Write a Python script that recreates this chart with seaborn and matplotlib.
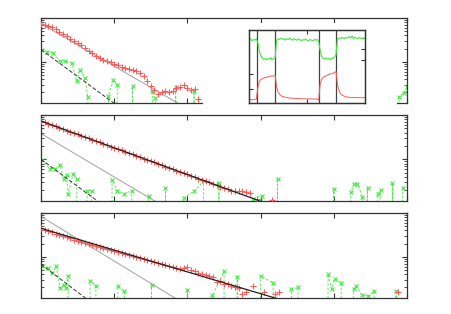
import matplotlib
matplotlib.use("Agg")
import matplotlib.pyplot as plt
import seaborn as sns
from matplotlib.patches import Rectangle

# ---- panel 1 (top) ----
red1_y = [0.73, 0.71, 0.665, 0.61, 0.548, 0.48, 0.433, 0.384, 0.34, 0.30,
          0.267, 0.236, 0.205, 0.178, 0.155, 0.135, 0.122, 0.111, 0.104, 0.0968,
          0.090, 0.084, 0.078, 0.073, 0.068, 0.0638, 0.0605, 0.056, 0.047, 0.037,
          0.0285, 0.0231, 0.0187, 0.0209, 0.0214, 0.0209, 0.0214, 0.025, 0.027, 0.030,
          0.025, 0.0231, 0.0243, 0.0144]
green1_x = [0.01, 0.08, 0.16, 0.26, 0.33, 0.42, 0.49, 0.53, 0.60, 0.64, 0.70,
            0.88, 0.92, 0.99, 1.04, 1.10, 1.20, 1.25, 1.30, 1.48, 1.52, 1.56, 1.60,
            1.80, 1.84, 1.90, 2.05, 2.09, 2.12, 4.85, 4.89, 4.96, 5.0]
green1_y = [0.187, 0.171, 0.163, 0.102, 0.107, 0.093, 0.0357, 0.066, 0.0427, 0.016, 0,
            0, 0.017, 0.039, 0.030, 0, 0, 0.0275, 0, 0, 0.0211, 0.0152, 0,
            0, 0.027, 0, 0, 0.0211, 0, 0, 0.016, 0.0199, 0.0266]
gray1_x, gray1_y = [0, 2], [0.74, 0.0085]
dash1_x, dash1_y = [0, 1.2], [0.19, 0.0064]

# ---- panel 2 (middle) ----
red2_y = [0.731, 0.682, 0.636, 0.60, 0.553, 0.516, 0.482, 0.441, 0.419, 0.391,
          0.365, 0.340, 0.318, 0.302, 0.276, 0.258, 0.240, 0.224, 0.209, 0.190,
          0.182, 0.170, 0.158, 0.148, 0.138, 0.129, 0.120, 0.114, 0.104, 0.0973,
          0.0908, 0.0847, 0.0790, 0.0737, 0.0675, 0.0641, 0.0598, 0.0558, 0.0520, 0.0485,
          0.046, 0.0423, 0.0394, 0.0367, 0.0343, 0.0320, 0.0305, 0.0278, 0.0260, 0.0242,
          0.0226, 0.0211, 0.0197, 0.0193, 0.0192, 0.0189, 0.0186, 0.0178]
red2_extra_x, red2_extra_y = [2.95, 3.15], [0.013, 0.0121]
green2_x = [0.01, 0.12, 0.19, 0.26, 0.31, 0.35, 0.37, 0.44, 0.49, 0.55,
            0.63, 0.69, 0.75, 0.97, 1.04, 1.13, 1.24, 1.30, 1.47, 1.55,
            1.70, 1.80, 1.95, 2.09, 2.22, 2.27, 2.43, 2.50, 2.89, 3.02,
            3.10, 3.23, 3.27, 4.00, 4.05, 4.23, 4.28, 4.32, 4.39, 4.43,
            4.46, 4.50, 4.60, 4.64, 4.70, 4.80, 4.87, 4.94]
green2_y = [0.0985, 0.0615, 0.0615, 0.073, 0.0364, 0.0433, 0.0166, 0.0473, 0.0364, 0,
            0.0197, 0.0197, 0, 0.0346, 0.0197, 0.0166, 0.0197, 0, 0.0152, 0,
            0.0223, 0, 0.0135, 0.019, 0.0321, 0, 0.0289, 0, 0.013, 0.0152,
            0, 0.0364, 0, 0.0216, 0, 0.0181, 0.028, 0.028, 0.0144, 0,
            0.0223, 0, 0.0166, 0.0205, 0, 0.0289, 0, 0.0223]
black2_x, black2_y = [0, 3.2], [0.731, 0.00853]
gray2_x, gray2_y = [0, 2], [0.38, 0.0042]
dash2_x, dash2_y = [0, 1], [0.1, 0.006]

# ---- panel 3 (bottom) ----
red3_y = [0.447, 0.417, 0.389, 0.363, 0.339, 0.316, 0.295, 0.279, 0.263, 0.248,
          0.234, 0.221, 0.209, 0.197, 0.186, 0.176, 0.166, 0.158, 0.151, 0.145,
          0.138, 0.130, 0.123, 0.117, 0.112, 0.106, 0.100, 0.0955, 0.0912, 0.0861,
          0.0813, 0.0776, 0.0741, 0.070, 0.0661, 0.0631, 0.0589, 0.0562, 0.0537, 0.055,
          0.0575, 0.0501, 0.0468, 0.0437, 0.0398, 0.038, 0.0363, 0.0347, 0.0263, 0.0275,
          0.0245, 0.024, 0.0219, 0.0209, 0.019, 0.0141, 0.0158]
red3_extra_x = [2.90, 3.05, 3.20, 3.25, 4.88]
red3_extra_y = [0.0219, 0.0158, 0.0141, 0.0158, 0.0158]
green3_x = [0.01, 0.10, 0.15, 0.21, 0.26, 0.31, 0.34, 0.37, 0.45, 0.67,
            0.75, 0.80, 1.05, 1.14, 1.20, 1.51, 1.60, 2.00, 2.10, 2.34,
            2.50, 2.55, 2.68, 2.75, 3.00, 3.17, 3.25, 3.42, 3.51, 3.60,
            3.92, 3.97, 4.01, 4.10, 4.15, 4.27, 4.30, 4.38, 4.46, 4.55,
            4.65, 4.85, 4.90]
green3_y = [0.0624, 0.0553, 0.0426, 0.0603, 0.0194, 0.0231, 0.0194, 0.0357, 0, 0.0285,
            0.0219, 0, 0.0211, 0.0163, 0, 0.0231, 0, 0.0178, 0, 0.0132,
            0.0463, 0, 0.0351, 0, 0.0371, 0.0252, 0, 0.0181, 0.0200, 0,
            0.0404, 0.0187, 0.0316, 0.0257, 0, 0.0187, 0.0211, 0.0137, 0.0125, 0.0163,
            0, 0.0169, 0]
black3_x, black3_y = [0, 3.5], [0.447, 0.0081]
gray3_x, gray3_y = [0, 2], [0.83, 0.0077]
dash3_x, dash3_y = [0, 0.8], [0.0676, 0.0065]

# ---- inset time traces (x step 0.025) ----
inset_green = [0.86, 0.88, 0.85, 0.87, 0.86, 0.88, 0.83, 0.72, 0.65, 0.62,
               0.60, 0.61, 0.59, 0.61, 0.60, 0.62, 0.59, 0.61, 0.62, 0.86,
               0.88, 0.87, 0.89, 0.87, 0.88, 0.86, 0.88, 0.87, 0.89, 0.87,
               0.86, 0.88, 0.87, 0.86, 0.88, 0.87, 0.85, 0.87, 0.86, 0.88,
               0.86, 0.85, 0.87, 0.86, 0.85, 0.87, 0.86, 0.87, 0.84, 0.73,
               0.64, 0.61, 0.60, 0.62, 0.60, 0.61, 0.59, 0.62, 0.61, 0.63,
               0.66, 0.88, 0.89, 0.88, 0.90, 0.89, 0.88, 0.90, 0.89, 0.91,
               0.89, 0.92, 0.88, 0.90, 0.89, 0.88, 0.90, 0.89, 0.88, 0.89, 0.88]
inset_red = [0.05, 0.05, 0.04, 0.05, 0.05, 0.05, 0.20, 0.29, 0.32, 0.33,
             0.34, 0.35, 0.35, 0.36, 0.36, 0.37, 0.37, 0.37, 0.38, 0.22,
             0.15, 0.12, 0.10, 0.09, 0.085, 0.08, 0.075, 0.07, 0.07, 0.065,
             0.065, 0.065, 0.06, 0.062, 0.06, 0.058, 0.06, 0.058, 0.057, 0.058,
             0.056, 0.057, 0.055, 0.056, 0.055, 0.054, 0.055, 0.053, 0.04, 0.25,
             0.32, 0.35, 0.36, 0.37, 0.38, 0.39, 0.40, 0.40, 0.41, 0.42,
             0.43, 0.25, 0.17, 0.13, 0.11, 0.10, 0.09, 0.085, 0.08, 0.078,
             0.077, 0.075, 0.074, 0.075, 0.073, 0.074, 0.072, 0.073, 0.072, 0.073, 0.074]
inset_marks = [0.144, 0.454, 1.20, 1.50]

RED = "#ff5a5a"
GREEN = "#44ea44"
FRAME = "#333333"

sns.set_theme(style="white", rc={"axes.edgecolor": FRAME, "axes.linewidth": 0.9})

fig = plt.figure(figsize=(4.52, 3.14), dpi=100)

panels = [
    (0.672, 0.2707, red1_y, [], [], green1_x, green1_y, None, (gray1_x, gray1_y), (dash1_x, dash1_y)),
    (0.360, 0.2739, red2_y, red2_extra_x, red2_extra_y, green2_x, green2_y,
     (black2_x, black2_y), (gray2_x, gray2_y), (dash2_x, dash2_y)),
    (0.051, 0.2707, red3_y, red3_extra_x, red3_extra_y, green3_x, green3_y,
     (black3_x, black3_y), (gray3_x, gray3_y), (dash3_x, dash3_y)),
]

for bottom, height, red_y, ex_x, ex_y, gx, gy, black, gray, dash in panels:
    ax = fig.add_axes([0.0907, bottom, 0.81, height])
    ax.set_yscale("log")
    red_x = [round(0.05 * i, 2) for i in range(len(red_y))] + ex_x
    red_all = red_y + ex_y
    # green: dashed linespoints, zeros drop off the bottom of the log axis
    ax.plot(gx, gy, color=GREEN, linestyle=(0, (3, 2)), linewidth=0.6,
            marker="x", markersize=3.5, markeredgewidth=0.8)
    sns.scatterplot(x=red_x, y=red_all, marker="+", s=18, color=RED,
                    linewidth=0.8, ax=ax, zorder=3)
    sns.lineplot(x=gray[0], y=gray[1], color="#a0a0a0", linewidth=0.7,
                 estimator=None, sort=False, ax=ax)
    sns.lineplot(x=dash[0], y=dash[1], color="#333333", linewidth=0.7,
                 linestyle=(0, (4, 2)), estimator=None, sort=False, ax=ax)
    if black is not None:
        sns.lineplot(x=black[0], y=black[1], color="#222222", linewidth=0.9,
                     estimator=None, sort=False, ax=ax, zorder=4)
    ax.set_xlim(0, 5)
    ax.set_ylim(10 ** -1.94, 1)
    ax.set_xticks([0, 1, 2, 3, 4, 5])
    ax.tick_params(which="both", direction="in", top=True, right=True,
                   bottom=True, left=True, labelleft=False, labelbottom=False,
                   color=FRAME)
    ax.tick_params(which="major", length=3.5, width=0.8)
    ax.tick_params(which="minor", length=2, width=0.6)
    ax.set_xlabel("")
    ax.set_ylabel("")

# white box that blanks out the middle of the top panel
fig.add_artist(Rectangle((0.449, 0.659), 0.429, 0.268, transform=fig.transFigure,
                         facecolor="white", edgecolor="none", zorder=1))

# inset
ax_in = fig.add_axes([0.551, 0.672, 0.2566, 0.2325])
ax_in.set_zorder(2)
ax_in2 = ax_in.twinx()
ax_in2.set_zorder(3)
ax_in2.patch.set_visible(False)
t = [round(0.025 * i, 3) for i in range(len(inset_red))]
for m in inset_marks:
    ax_in.axvline(m, color="#444444", linewidth=0.9)
sns.lineplot(x=t, y=inset_red, color=RED, linewidth=0.7, estimator=None,
             sort=False, ax=ax_in)
sns.lineplot(x=t, y=inset_green, color=GREEN, linewidth=0.8, estimator=None,
             sort=False, ax=ax_in2)
for a in (ax_in, ax_in2):
    a.set_xlim(0, 2)
    a.set_ylim(0, 1)
    a.set_xticks([1])
    a.set_xlabel("")
    a.set_ylabel("")
ax_in.set_yticks([0.19, 0.40])
ax_in2.set_yticks([0.59, 0.74, 0.886])
ax_in.tick_params(direction="in", length=3, width=0.8, top=True, bottom=True,
                  left=True, right=False, labelleft=False, labelbottom=False, color=FRAME)
ax_in2.tick_params(direction="in", length=3, width=0.8, right=True, left=False,
                   labelright=False, color=FRAME)

fig.savefig("out.png", dpi=100)
